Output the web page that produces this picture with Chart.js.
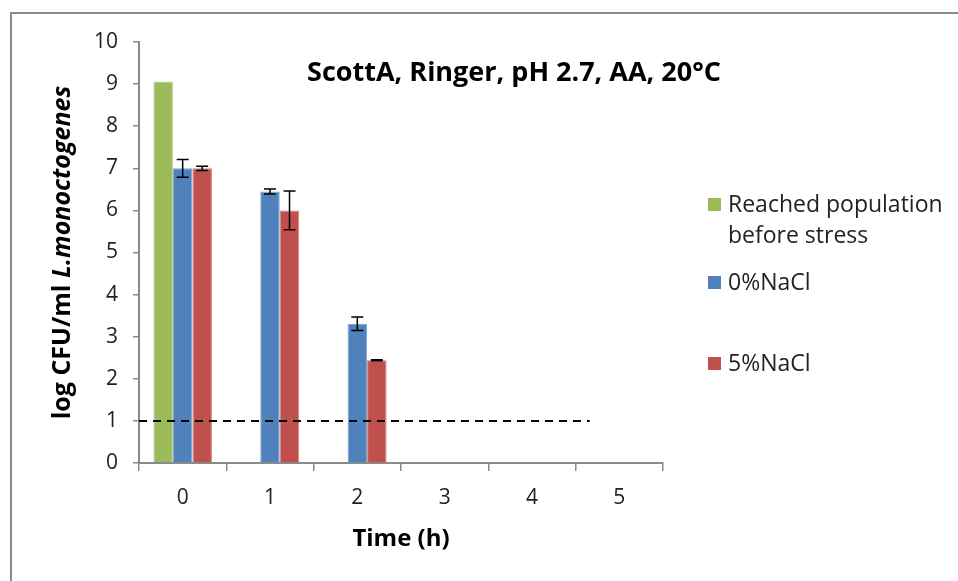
<!DOCTYPE html>
<html>
<head>
<meta charset="utf-8">
<script src="https://cdn.jsdelivr.net/npm/chart.js@4/dist/chart.umd.min.js"></script>
<style>
  html, body { margin: 0; padding: 0; background: #fff; }
  #wrap { position: relative; width: 958px; height: 581px; }
</style>
</head>
<body>
<div id="wrap"><canvas id="chart" width="958" height="581"></canvas></div>
<script>
// data
const times = ['0', '1', '2', '3', '4', '5'];
const reached = [9.06, null, null, null, null, null];
const nacl0 = [7.0, 6.45, 3.31, null, null, null];
const nacl0Err = [0.21, 0.06, 0.16, null, null, null];
const nacl5 = [7.0, 6.0, 2.44, null, null, null];
const nacl5Err = [0.05, 0.46, 0.01, null, null, null];
const limitY = 1;
const limitX = [-0.5, 4.66];
const yTicks = [0, 1, 2, 3, 4, 5, 6, 7, 8, 9, 10];

const FONT = '"Open Sans", "Noto Sans", sans-serif';

// dashed detection limit + error bars, drawn over the bars
const overlays = {
  id: 'overlays',
  afterDatasetsDraw(chart) {
    const ctx = chart.ctx;
    const x = chart.scales.x;
    const y = chart.scales.y;
    ctx.save();
    // limit line (category scale accepts fractional index values)
    ctx.strokeStyle = '#000';
    ctx.lineWidth = 2;
    ctx.setLineDash([8, 6]);
    ctx.beginPath();
    ctx.moveTo(x.getPixelForValue(limitX[0]), y.getPixelForValue(limitY));
    ctx.lineTo(x.getPixelForValue(limitX[1]), y.getPixelForValue(limitY));
    ctx.stroke();
    ctx.setLineDash([]);

    ctx.lineWidth = 1.5;
    chart.data.datasets.forEach((ds, i) => {
      if (!ds.errors) return;
      const meta = chart.getDatasetMeta(i);
      meta.data.forEach((bar, j) => {
        const v = ds.data[j], e = ds.errors[j];
        if (v == null || e == null) return;
        const bx = bar.x;
        const top = y.getPixelForValue(v + e);
        const bot = y.getPixelForValue(v - e);
        ctx.beginPath();
        ctx.moveTo(bx, top); ctx.lineTo(bx, bot);
        ctx.moveTo(bx - 6, top); ctx.lineTo(bx + 6, top);
        ctx.moveTo(bx - 6, bot); ctx.lineTo(bx + 6, bot);
        ctx.stroke();
      });
    });
    ctx.restore();
  }
};

// frame, titles, legend
const decor = {
  id: 'decor',
  afterDraw(chart) {
    const ctx = chart.ctx;
    const a = chart.chartArea;
    ctx.save();
    // outer frame
    ctx.strokeStyle = '#8a8a8a';
    ctx.lineWidth = 2;
    ctx.beginPath();
    ctx.moveTo(11, 581); ctx.lineTo(11, 13); ctx.lineTo(958, 13);
    ctx.stroke();

    ctx.fillStyle = '#000';
    ctx.textAlign = 'center';
    ctx.textBaseline = 'middle';
    ctx.font = 'bold 27px ' + FONT;
    ctx.fillText('ScottA, Ringer, pH 2.7, AA, 20°C', 514, 73);

    ctx.font = 'bold 24px ' + FONT;
    ctx.fillText('Time (h)', 401, 539);

    // y title, mixed style
    ctx.translate(63, (a.top + a.bottom) / 2);
    ctx.rotate(-Math.PI / 2);
    const p1 = 'log CFU/ml ', p2 = 'L.monoctogenes';
    ctx.font = 'bold 25px ' + FONT;
    const w1 = ctx.measureText(p1).width;
    ctx.font = 'italic bold 25px ' + FONT;
    const w2 = ctx.measureText(p2).width;
    let sx = -(w1 + w2) / 2;
    ctx.textAlign = 'left';
    ctx.font = 'bold 25px ' + FONT;
    ctx.fillText(p1, sx, 0);
    ctx.font = 'italic bold 25px ' + FONT;
    ctx.fillText(p2, sx + w1, 0);
    ctx.restore();

    // legend
    ctx.save();
    ctx.textAlign = 'left';
    ctx.textBaseline = 'middle';
    ctx.font = '23px ' + FONT;
    const rows = [205, 283, 364];
    chart.data.datasets.forEach((ds, i) => {
      const yy = rows[i];
      ctx.fillStyle = ds.backgroundColor;
      ctx.fillRect(708, yy - 7, 13, 13);
      ctx.fillStyle = '#222';
      const lines = Array.isArray(ds.legendText) ? ds.legendText : [ds.label];
      lines.forEach((t, k) => ctx.fillText(t, 728, yy + k * 31));
    });
    ctx.restore();
  }
};

const barOpts = { categoryPercentage: 0.67, barPercentage: 1, borderWidth: 1 };

new Chart(document.getElementById('chart'), {
  type: 'bar',
  data: {
    labels: times,
    datasets: [
      { label: 'Reached population before stress', legendText: ['Reached population', 'before stress'],
        data: reached, backgroundColor: '#9BBB59', borderColor: '#b5cf85', ...barOpts },
      { label: '0%NaCl', data: nacl0, errors: nacl0Err, backgroundColor: '#4F81BD', borderColor: '#7fa2cf', ...barOpts },
      { label: '5%NaCl', data: nacl5, errors: nacl5Err, backgroundColor: '#C0504D', borderColor: '#d27e7b', ...barOpts }
    ]
  },
  options: {
    responsive: false,
    animation: false,
    layout: { padding: { left: 0, top: 42, right: 295, bottom: 0 } },
    plugins: { legend: { display: false }, tooltip: { enabled: false } },
    scales: {
      x: {
        grid: { offset: true, drawOnChartArea: false, color: '#8a8a8a', tickLength: 8, lineWidth: 1.5 },
        border: { color: '#8a8a8a', width: 2 },
        ticks: { color: '#222', font: { family: FONT, size: 21 }, padding: 14 },
        afterFit(s) { s.height = 118; }
      },
      y: {
        min: 0, max: 10,
        afterBuildTicks(s) { s.ticks = yTicks.map(v => ({ value: v })); },
        grid: { drawOnChartArea: false, color: '#8a8a8a', tickLength: 6, lineWidth: 1.5 },
        border: { color: '#8a8a8a', width: 2 },
        ticks: { color: '#222', font: { family: FONT, size: 21 }, padding: 15 },
        afterFit(s) { s.width = 139; }
      }
    }
  },
  plugins: [overlays, decor]
});
</script>
</body>
</html>
